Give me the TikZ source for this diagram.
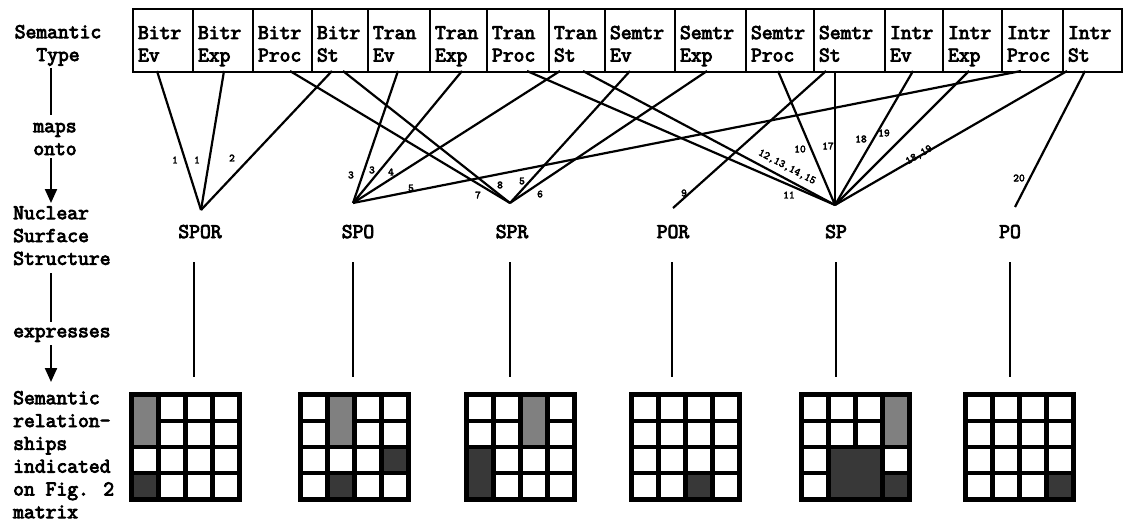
\documentclass[tikz,border=0pt]{standalone}
\usepackage{fontspec}
\newfontfamily\twfont[FakeBold=4]{Latin Modern Mono}
\newfontfamily\lblfont[FakeBold=3]{Latin Modern Mono}
\usetikzlibrary{arrows.meta}
\newcommand\mtxbox[2]{%
  \node[fill=black, anchor=north west, minimum width=113pt, minimum height=110pt, inner sep=0pt] (#1) at (#2,392) {};
  \foreach \i in {0,...,3}{\foreach \j in {0,...,3}{
    \fill[white] ({#2+4.5+\i*27},{396.5+\j*26.3}) rectangle ++(22.75,22);}}}
\newcommand\cellblk[6]{%
  \fill[#6] ({#1+4.5+#2*27},{396.5+#3*26.3}) rectangle ++({#4*27-4.25},{#5*26.3-4.3});}
\newcommand\tbtext[2]{\rule{0pt}{24.5pt}#1\\#2\rule[-5pt]{0pt}{5pt}}
\begin{document}
\begin{tikzpicture}[x=1pt,y=-1pt,
  txt/.style={font=\twfont\fontsize{21}{22.8}\selectfont, inner sep=0pt},
  typebox/.style={draw, line width=2pt, anchor=north west, minimum height=63pt, align=left,
    inner xsep=5pt, inner ysep=0pt, font=\twfont\fontsize{21}{22.5}\selectfont},
  conn/.style={line width=2.2pt},
  arr/.style={line width=2.2pt, -{Triangle[width=12pt,length=14pt]}},
  lbl/.style={font=\lblfont\fontsize{11}{11}\selectfont, inner sep=0pt},
  light/.style={fill=black!50},
  dark/.style={fill=black!78},
]
\useasboundingbox (0,0) rectangle (1123,527);

% ---- semantic type boxes
\node[typebox, text width=50pt] (t1)  at (132,8)  {\tbtext{Bitr}{Ev}};
\node[typebox, text width=50pt] (t2)  at (192,8)  {\tbtext{Bitr}{Exp}};
\node[typebox, text width=49pt] (t3)  at (252,8)  {\tbtext{Bitr}{Proc}};
\node[typebox, text width=46pt] (t4)  at (311,8)  {\tbtext{Bitr}{St}};
\node[typebox, text width=52pt] (t5)  at (367,8)  {\tbtext{Tran}{Ev}};
\node[typebox, text width=47pt] (t6)  at (429,8)  {\tbtext{Tran}{Exp}};
\node[typebox, text width=52pt] (t7)  at (486,8)  {\tbtext{Tran}{Proc}};
\node[typebox, text width=46pt] (t8)  at (548,8)  {\tbtext{Tran}{St}};
\node[typebox, text width=60pt] (t9)  at (604,8)  {\tbtext{Semtr}{Ev}};
\node[typebox, text width=61pt] (t10) at (674,8)  {\tbtext{Semtr}{Exp}};
\node[typebox, text width=58pt] (t11) at (745,8)  {\tbtext{Semtr}{Proc}};
\node[typebox, text width=61pt] (t12) at (813,8)  {\tbtext{Semtr}{St}};
\node[typebox, text width=48pt] (t13) at (884,8)  {\tbtext{Intr}{Ev}};
\node[typebox, text width=49pt] (t14) at (942,8)  {\tbtext{Intr}{Exp}};
\node[typebox, text width=51pt] (t15) at (1001,8) {\tbtext{Intr}{Proc}};
\node[typebox, text width=49pt] (t16) at (1062,8) {\tbtext{Intr}{St}};

% ---- convergence points
\coordinate (a1) at (201,210);
\coordinate (a2) at (353,203);
\coordinate (a3) at (510,203);
\coordinate (a4) at (673,208);
\coordinate (a5) at (835,205);
\coordinate (a6) at (1015,207);

% ---- start points on the box bottoms
\coordinate (s1)  at (157,71);
\coordinate (s2)  at (224,71);
\coordinate (s3)  at (290,71);
\coordinate (s4a) at (332,71);
\coordinate (s4b) at (343,71);
\coordinate (s5)  at (398,71);
\coordinate (s6)  at (462,71);
\coordinate (s7)  at (527,71);
\coordinate (s8a) at (560,71);
\coordinate (s8b) at (583,71);
\coordinate (s9)  at (630,71);
\coordinate (s10) at (707,71);
\coordinate (s11) at (778,71);
\coordinate (s12a) at (826,71);
\coordinate (s12b) at (835,71);
\coordinate (s13) at (913,71);
\coordinate (s14) at (969,71);
\coordinate (s15) at (1021,71);
\coordinate (s16a) at (1067,71);
\coordinate (s16b) at (1085,71);

\draw[conn] (s1) -- (a1);
\draw[conn] (s2) -- (a1);
\draw[conn] (s4a) -- (a1);
\draw[conn] (s5) -- (a2);
\draw[conn] (s6) -- (a2);
\draw[conn] (s8a) -- (a2);
\draw[conn] (s15) -- (a2);
\draw[conn] (s3) -- (a3);
\draw[conn] (s4b) -- (a3);
\draw[conn] (s9) -- (a3);
\draw[conn] (s10) -- (a3);
\draw[conn] (s12a) -- (a4);
\draw[conn] (s7) -- (a5);
\draw[conn] (s8b) -- (a5);
\draw[conn] (s11) -- (a5);
\draw[conn] (s12b) -- (a5);
\draw[conn] (s13) -- (a5);
\draw[conn] (s14) -- (a5);
\draw[conn] (s16a) -- (a5);
\draw[conn] (s16b) -- (a6);

% ---- connector labels
\node[lbl] (k1)  at (175,160) {1};
\node[lbl] (k2)  at (197,160) {1};
\node[lbl] (k3)  at (232,158) {2};
\node[lbl] (k4)  at (351,175) {3};
\node[lbl] (k5)  at (372,170) {3};
\node[lbl] (k6)  at (391,172) {4};
\node[lbl] (k7)  at (411,188) {5};
\node[lbl] (k8)  at (478,195) {7};
\node[lbl] (k9)  at (500,185) {8};
\node[lbl] (k10) at (522,181) {5};
\node[lbl] (k11) at (540,194) {6};
\node[lbl] (k12) at (684,193) {9};
\node[lbl] (k13) at (800,149) {10};
\node[lbl] (k14) at (828,146) {17};
\node[lbl] (k15) at (861,139) {18};
\node[lbl] (k16) at (884,133) {19};
\node[lbl, rotate=30] (k17) at (919,155) {18,19};
\node[lbl, rotate=-28] (k18) at (787,167) {12,13,14,15};
\node[lbl] (k19) at (789,195) {11};
\node[lbl] (k20) at (1019,178) {20};

% ---- nuclear surface structures
\node[txt, anchor=base] (n1) at (200,238) {SPOR};
\node[txt, anchor=base] (n2) at (358,238) {SPO};
\node[txt, anchor=base] (n3) at (512,238) {SPR};
\node[txt, anchor=base] (n4) at (673,238) {POR};
\node[txt, anchor=base] (n5) at (836,238) {SP};
\node[txt, anchor=base] (n6) at (1010,238) {PO};

% ---- matrices
\mtxbox{m1}{129}
\mtxbox{m2}{298}
\mtxbox{m3}{464}
\mtxbox{m4}{629}
\mtxbox{m5}{799}
\mtxbox{m6}{963}
\cellblk{129}{0}{0}{1}{2}{light}
\cellblk{129}{0}{3}{1}{1}{dark}
\cellblk{298}{1}{0}{1}{2}{light}
\cellblk{298}{3}{2}{1}{1}{dark}
\cellblk{298}{1}{3}{1}{1}{dark}
\cellblk{464}{2}{0}{1}{2}{light}
\cellblk{464}{0}{2}{1}{2}{dark}
\cellblk{629}{2}{3}{1}{1}{dark}
\cellblk{799}{3}{0}{1}{2}{light}
\cellblk{799}{1}{2}{2}{2}{dark}
\cellblk{799}{3}{3}{1}{1}{dark}
\cellblk{963}{3}{3}{1}{1}{dark}

% ---- "expresses" lines
\foreach \k/\x in {1/194,2/353,3/510,4/672,5/836,6/1010}{
  \coordinate (vt\k) at (\x,262);
  \coordinate (vb\k) at (\x,377);
  \draw[conn] (vt\k) -- (vb\k);
}

% ---- left column
\node[txt, align=center, anchor=north] (L1) at (58,8) {\rule{0pt}{30pt}Semantic\\Type};
\node[txt, align=center, anchor=north] (L2) at (55,100) {\rule{0pt}{32pt}maps\\onto};
\node[txt, align=left, anchor=north west] (L3) at (13,190) {\rule{0pt}{29pt}Nuclear\\Surface\\Structure};
\node[txt, anchor=north west] (L4) at (13,310) {\rule{0pt}{27pt}expresses};
\node[txt, align=left, anchor=north west] (L5) at (13,380) {\rule{0pt}{24pt}Semantic\\relation-\\ships\\indicated\\on Fig. 2\\matrix};
\coordinate (p1) at (51,68);
\coordinate (p2) at (51,115);
\coordinate (p3) at (51,158);
\coordinate (p4) at (51,203);
\coordinate (p5) at (51,273);
\coordinate (p6) at (51,322);
\coordinate (p7) at (51,345);
\coordinate (p8) at (51,382);
\draw[conn] (p1) -- (p2);
\draw[arr] (p3) -- (p4);
\draw[conn] (p5) -- (p6);
\draw[arr] (p7) -- (p8);
\end{tikzpicture}
\end{document}
